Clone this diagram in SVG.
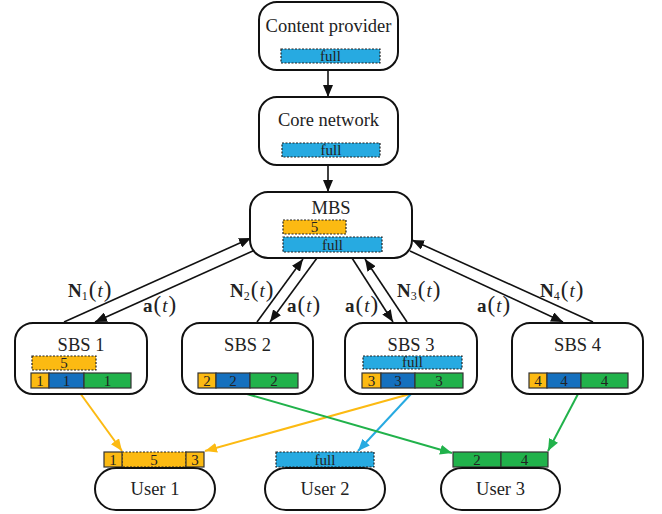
<svg xmlns="http://www.w3.org/2000/svg" width="662" height="514" viewBox="0 0 662 514">
<defs>
<style>
.box{fill:#fff;stroke:#111;stroke-width:2}
.t{font-family:"Liberation Serif","Times New Roman",serif;font-size:18.5px;fill:#222;text-anchor:middle}
.s{font-family:"Liberation Serif","Times New Roman",serif;font-size:15px;fill:#222;text-anchor:middle}
.m{font-family:"Liberation Serif","Times New Roman",serif;font-size:19px;fill:#222}
.p{font-size:23px}
.sub{font-size:12px}
.dash{stroke:#222;stroke-width:1.2;stroke-dasharray:2 1.5}
.seg{stroke:#333;stroke-width:1.2}
.y{fill:#FCBA12}.lb{fill:#27AAE1}.db{fill:#1570BE}.g{fill:#21B24B}
.k{stroke:#111;stroke-width:1.6;fill:none}
.cy{stroke:#FCBA12;stroke-width:2;fill:none}
.cb{stroke:#27AAE1;stroke-width:2;fill:none}
.cg{stroke:#21B24B;stroke-width:2;fill:none}
</style>
<marker id="ak" viewBox="0 0 12 10" refX="12" refY="5" markerWidth="12" markerHeight="10" markerUnits="userSpaceOnUse" orient="auto"><path d="M0,0 L12,5 L0,10 z" fill="#111"/></marker>
<marker id="ay" viewBox="0 0 12 10" refX="12" refY="5" markerWidth="12" markerHeight="10" markerUnits="userSpaceOnUse" orient="auto"><path d="M0,0 L12,5 L0,10 z" fill="#FCBA12"/></marker>
<marker id="ab" viewBox="0 0 12 10" refX="12" refY="5" markerWidth="12" markerHeight="10" markerUnits="userSpaceOnUse" orient="auto"><path d="M0,0 L12,5 L0,10 z" fill="#27AAE1"/></marker>
<marker id="ag" viewBox="0 0 12 10" refX="12" refY="5" markerWidth="12" markerHeight="10" markerUnits="userSpaceOnUse" orient="auto"><path d="M0,0 L12,5 L0,10 z" fill="#21B24B"/></marker>
</defs>
<rect width="662" height="514" fill="#fff"/>

<g id="connectors">
<line class="k" x1="328" y1="70" x2="328" y2="97" marker-end="url(#ak)"/>
<line class="k" x1="328" y1="165" x2="328" y2="192" marker-end="url(#ak)"/>
<line class="k" x1="64" y1="322" x2="251" y2="238" marker-end="url(#ak)"/>
<line class="k" x1="255" y1="250" x2="95" y2="322" marker-end="url(#ak)"/>
<line class="k" x1="257" y1="322" x2="303" y2="259" marker-end="url(#ak)"/>
<line class="k" x1="317" y1="258" x2="270" y2="322" marker-end="url(#ak)"/>
<line class="k" x1="352" y1="258" x2="393" y2="322" marker-end="url(#ak)"/>
<line class="k" x1="407" y1="322" x2="365" y2="259" marker-end="url(#ak)"/>
<line class="k" x1="593" y1="322" x2="412" y2="240" marker-end="url(#ak)"/>
<line class="k" x1="410" y1="251" x2="563" y2="322" marker-end="url(#ak)"/>
<line class="cy" x1="80" y1="393" x2="122" y2="451" marker-end="url(#ay)"/>
<line class="cy" x1="410" y1="394" x2="205" y2="451" marker-end="url(#ay)"/>
<line class="cb" x1="411" y1="394" x2="358" y2="451" marker-end="url(#ab)"/>
<line class="cg" x1="247" y1="394" x2="452" y2="453" marker-end="url(#ag)"/>
<line class="cg" x1="578" y1="394" x2="548" y2="451" marker-end="url(#ag)"/>
<g class="m">
<text x="68" y="297"><tspan font-weight="bold">N</tspan><tspan class="sub" dy="3">1</tspan><tspan class="p" dy="-3" dx="1">(</tspan><tspan font-style="italic" dx="1">t</tspan><tspan class="p" dx="1">)</tspan></text>
<text x="143" y="312"><tspan font-weight="bold">a</tspan><tspan class="p" dx="1">(</tspan><tspan font-style="italic" dx="1">t</tspan><tspan class="p" dx="1">)</tspan></text>
<text x="230" y="297"><tspan font-weight="bold">N</tspan><tspan class="sub" dy="3">2</tspan><tspan class="p" dy="-3" dx="1">(</tspan><tspan font-style="italic" dx="1">t</tspan><tspan class="p" dx="1">)</tspan></text>
<text x="287" y="312"><tspan font-weight="bold">a</tspan><tspan class="p" dx="1">(</tspan><tspan font-style="italic" dx="1">t</tspan><tspan class="p" dx="1">)</tspan></text>
<text x="345" y="312"><tspan font-weight="bold">a</tspan><tspan class="p" dx="1">(</tspan><tspan font-style="italic" dx="1">t</tspan><tspan class="p" dx="1">)</tspan></text>
<text x="397" y="297"><tspan font-weight="bold">N</tspan><tspan class="sub" dy="3">3</tspan><tspan class="p" dy="-3" dx="1">(</tspan><tspan font-style="italic" dx="1">t</tspan><tspan class="p" dx="1">)</tspan></text>
<text x="477" y="312"><tspan font-weight="bold">a</tspan><tspan class="p" dx="1">(</tspan><tspan font-style="italic" dx="1">t</tspan><tspan class="p" dx="1">)</tspan></text>
<text x="540" y="297"><tspan font-weight="bold">N</tspan><tspan class="sub" dy="3">4</tspan><tspan class="p" dy="-3" dx="1">(</tspan><tspan font-style="italic" dx="1">t</tspan><tspan class="p" dx="1">)</tspan></text>
</g>
</g>

<g id="content-provider">
<rect class="box" x="259" y="2" width="139" height="68" rx="18"/>
<text class="t" x="328.5" y="32">Content provider</text>
<rect class="lb dash" x="281" y="49" width="99" height="14"/>
<text class="s" x="330.5" y="60.5">full</text>
</g>

<g id="core-network">
<rect class="box" x="259" y="97" width="139" height="68" rx="18"/>
<text class="t" x="328.5" y="126">Core network</text>
<rect class="lb dash" x="282" y="143" width="98" height="14"/>
<text class="s" x="331" y="154.5">full</text>
</g>

<g id="mbs">
<rect class="box" x="250" y="192" width="162" height="66" rx="18"/>
<text class="t" x="331" y="214">MBS</text>
<rect class="y dash" x="283" y="220" width="63" height="14"/>
<text class="s" x="314.5" y="231.5">5</text>
<rect class="lb dash" x="283" y="237" width="99" height="15"/>
<text class="s" x="332.5" y="249.5">full</text>
</g>

<g id="sbs1">
<rect class="box" x="15" y="323" width="132" height="71" rx="18"/>
<text class="t" x="81" y="351">SBS 1</text>
<rect class="y dash" x="32" y="356" width="64" height="14"/>
<text class="s" x="64" y="368">5</text>
<rect class="y seg" x="31" y="373" width="18" height="15"/>
<rect class="db seg" x="49" y="373" width="35" height="15"/>
<rect class="g seg" x="84" y="373" width="47" height="15"/>
<text class="s" x="40" y="386">1</text><text class="s" x="66.5" y="386">1</text><text class="s" x="107.5" y="386">1</text>
</g>

<g id="sbs2">
<rect class="box" x="182" y="323" width="131" height="71" rx="18"/>
<text class="t" x="247.5" y="351">SBS 2</text>
<rect class="y seg" x="198" y="373" width="18" height="15"/>
<rect class="db seg" x="216" y="373" width="34" height="15"/>
<rect class="g seg" x="250" y="373" width="48" height="15"/>
<text class="s" x="207" y="386">2</text><text class="s" x="233" y="386">2</text><text class="s" x="274" y="386">2</text>
</g>

<g id="sbs3">
<rect class="box" x="345" y="323" width="132" height="71" rx="18"/>
<text class="t" x="411" y="351">SBS 3</text>
<rect class="lb dash" x="363" y="356" width="99" height="13"/>
<text class="s" x="412.5" y="367">full</text>
<rect class="y seg" x="362" y="373" width="19" height="15"/>
<rect class="db seg" x="381" y="373" width="34" height="15"/>
<rect class="g seg" x="415" y="373" width="48" height="15"/>
<text class="s" x="371.5" y="386">3</text><text class="s" x="398" y="386">3</text><text class="s" x="439" y="386">3</text>
</g>

<g id="sbs4">
<rect class="box" x="512" y="323" width="131" height="71" rx="18"/>
<text class="t" x="577.5" y="351">SBS 4</text>
<rect class="y seg" x="529" y="373" width="18" height="15"/>
<rect class="db seg" x="547" y="373" width="34" height="15"/>
<rect class="g seg" x="581" y="373" width="47" height="15"/>
<text class="s" x="538" y="386">4</text><text class="s" x="564" y="386">4</text><text class="s" x="604.5" y="386">4</text>
</g>

<g id="user1">
<rect class="y dash" x="122" y="452" width="64" height="15"/>
<rect class="y seg" x="104" y="452" width="18" height="15"/>
<rect class="y seg" x="186" y="452" width="18" height="15"/>
<text class="s" x="113" y="465">1</text><text class="s" x="154" y="465">5</text><text class="s" x="195" y="465">3</text>
<rect class="box" x="95" y="468" width="120" height="42" rx="21"/>
<text class="t" x="155" y="495">User 1</text>
</g>

<g id="user2">
<rect class="lb dash" x="276" y="452" width="98" height="15"/>
<text class="s" x="325" y="465">full</text>
<rect class="box" x="265" y="468" width="120" height="42" rx="21"/>
<text class="t" x="325" y="495">User 2</text>
</g>

<g id="user3">
<rect class="g seg" x="453" y="452" width="48" height="15"/>
<rect class="g seg" x="501" y="452" width="47" height="15"/>
<text class="s" x="477" y="465">2</text><text class="s" x="524.5" y="465">4</text>
<rect class="box" x="441" y="468" width="119" height="42" rx="21"/>
<text class="t" x="500.5" y="495">User 3</text>
</g>
</svg>
